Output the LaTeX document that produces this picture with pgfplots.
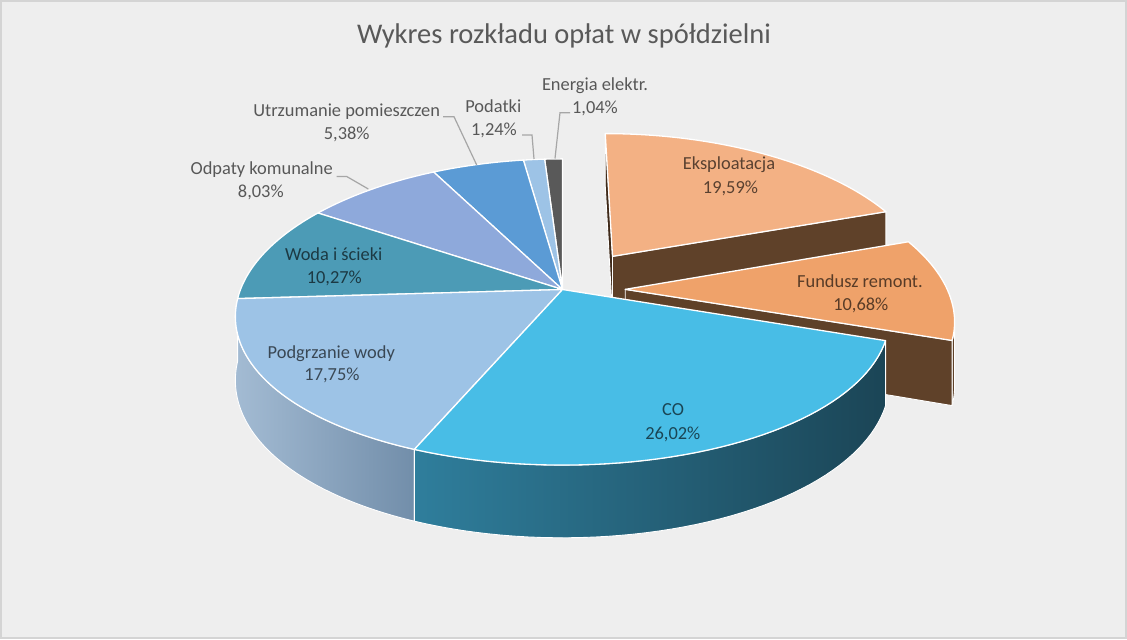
\documentclass[border=0pt]{standalone}
\usepackage{fontspec}
\setmainfont{Carlito}
\usepackage{pgfplots}
\usepackage{pgfplotstable}
\pgfplotsset{compat=1.18}

\definecolor{bg}{HTML}{EEEEEE}
\definecolor{frame}{HTML}{D4D4D4}
\definecolor{titlecol}{HTML}{595959}
\definecolor{leader}{HTML}{A6A6A6}
\definecolor{cEk}{HTML}{F3B184}
\definecolor{cFu}{HTML}{EFA26A}
\definecolor{cBrown}{HTML}{5F4129}
\definecolor{cBrownD}{HTML}{3F2A1A}
\definecolor{cCO}{HTML}{48BDE6}
\definecolor{cCOl}{HTML}{2F7E9C}
\definecolor{cCOr}{HTML}{1B4556}
\definecolor{cPo}{HTML}{9DC3E6}
\definecolor{cPol}{HTML}{A3BBD3}
\definecolor{cPor}{HTML}{728EAA}
\definecolor{cWo}{HTML}{4C9BB6}
\definecolor{cOd}{HTML}{8EA9DB}
\definecolor{cUt}{HTML}{5B9BD5}
\definecolor{cPd}{HTML}{9DC3E6}
\definecolor{cEn}{HTML}{595959}

\tikzset{lbl/.style={anchor=base, text=black, text opacity=0.63, inner sep=0pt,
  font=\fontsize{18.4bp}{22bp}\selectfont}}

% shares (%) in Excel's clockwise order from 12 o'clock, and explosion
\pgfplotstableread{
share explode
19.59 0.28
10.68 0.195
26.02 0
17.75 0
10.27 0
8.03 0
5.38 0
1.24 0
1.04 0
}\piedata

% start/end angles of every slice
\gdef\cum{0}
\pgfplotstableforeachcolumnelement{share}\of\piedata\as\val{%
  \pgfmathsetmacro\angA{90-3.6*\cum}%
  \pgfmathsetmacro\angB{90-3.6*(\cum+\val)}%
  \expandafter\xdef\csname ts\pgfplotstablerow\endcsname{\angA}%
  \expandafter\xdef\csname te\pgfplotstablerow\endcsname{\angB}%
  \pgfmathsetmacro\angC{\cum+\val}\xdef\cum{\angC}%
}
\pgfplotstableforeachcolumnelement{explode}\of\piedata\as\val{%
  \edef\rr{\pgfplotstablerow}%
  \pgfmathsetmacro\mid{(\csname ts\rr\endcsname+\csname te\rr\endcsname)/2}%
  \pgfmathsetmacro\duu{\val*cos(\mid)}%
  \pgfmathsetmacro\dvv{\val*sin(\mid)}%
  \expandafter\xdef\csname du\rr\endcsname{\duu}%
  \expandafter\xdef\csname dv\rr\endcsname{\dvv}%
}
\newcommand\TS[1]{\csname ts#1\endcsname}
\newcommand\TE[1]{\csname te#1\endcsname}
\newcommand\DU[1]{\csname du#1\endcsname}
\newcommand\DV[1]{\csname dv#1\endcsname}

% perspective projection of the pie (unit radius, z=0 top, z=-1 bottom)
\newcommand\proj[3]{%
  \pgfmathsetmacro\px{562.5+322*(#1)/(1+0.177*(#2))}%
  \pgfmathsetmacro\py{349.5+(149.8*(#2)+62*(#3))/(1+0.147*(#2))}%
}
\newcommand\addpt[3]{\proj{#1}{#2}{#3}\xdef\pth{\pth(axis cs:\px,\py)--}}
\newcommand\addrim[5]{%
  \foreach \kk in {0,...,48}{%
    \pgfmathsetmacro\ang{#4+(#5-#4)*\kk/48}%
    \addpt{#1+cos(\ang)}{#2+sin(\ang)}{#3}%
  }}
% top face: style, row
\newcommand\slicetop[2]{%
  \gdef\pth{}%
  \addpt{\DU{#2}}{\DV{#2}}{0}%
  \addrim{\DU{#2}}{\DV{#2}}{0}{\TS{#2}}{\TE{#2}}%
  \path[#1, draw=white, line width=1.3bp, line join=round] \pth cycle;}
% outer side: style, row, from angle, to angle
\newcommand\slicerim[4]{%
  \gdef\pth{}%
  \addrim{\DU{#2}}{\DV{#2}}{0}{#3}{#4}%
  \addrim{\DU{#2}}{\DV{#2}}{-1}{#4}{#3}%
  \path[#1, draw=white, line width=0.9bp, line join=round] \pth cycle;}
% radial cut face: style, row, angle
\newcommand\radial[3]{%
  \gdef\pth{}%
  \addpt{\DU{#2}}{\DV{#2}}{0}%
  \addpt{\DU{#2}+cos(#3)}{\DV{#2}+sin(#3)}{0}%
  \addpt{\DU{#2}+cos(#3)}{\DV{#2}+sin(#3)}{-1}%
  \addpt{\DU{#2}}{\DV{#2}}{-1}%
  \path[#1, draw=white, line width=0.9bp, line join=round] \pth cycle;}

\begin{document}
\begin{tikzpicture}
\begin{axis}[
  scale only axis, width=1127bp, height=639bp,
  xmin=0, xmax=1127, ymin=0, ymax=639,
  hide axis, clip=false]
\pgfplotsextra{%
  \fill[bg] (axis cs:0,0) rectangle (axis cs:1127,639);
  \draw[frame, line width=1.6bp] (axis cs:0.8,0.8) rectangle (axis cs:1126.2,638.2);
  % back slices
  \slicetop{fill=cEn}{8}%
  \slicetop{fill=cPd}{7}%
  \slicetop{fill=cUt}{6}%
  \slicetop{fill=cOd}{5}%
  \slicetop{fill=cWo}{4}%
  % Eksploatacja (exploded)
  \radial{fill=cBrownD}{0}{\TS{0}}%
  \radial{fill=cBrown}{0}{\TE{0}}%
  \slicetop{fill=cEk}{0}%
  % Fundusz remont. (exploded); outer side only where it faces the viewer
  \slicerim{fill=cBrown}{1}{-12.2}{\TE{1}}%
  \radial{fill=cBrown}{1}{\TE{1}}%
  \slicetop{fill=cFu}{1}%
  % Podgrzanie wody
  \slicerim{left color=cPol, right color=cPor}{3}{\TS{3}}{\TE{3}}%
  \slicetop{fill=cPo}{3}%
  % CO
  \slicerim{left color=cCOl, right color=cCOr}{2}{\TS{2}}{\TE{2}}%
  \slicetop{fill=cCO}{2}%
  % leader lines
  \draw[leader, line width=1.2bp] (axis cs:570,526.3) -- (axis cs:560,526.3) -- (axis cs:555,480.5);
  \draw[leader, line width=1.2bp] (axis cs:522,504) -- (axis cs:532,504) -- (axis cs:534,480);
  \draw[leader, line width=1.2bp] (axis cs:443,522.3) -- (axis cs:454,522.3) -- (axis cs:476.7,474);
  \draw[leader, line width=1.2bp] (axis cs:336.7,462.5) -- (axis cs:346.7,462.5) -- (axis cs:368.3,450);
  % title
  \node[anchor=base, text=titlecol, font=\fontsize{28.5bp}{34bp}\selectfont, inner sep=0pt]
    at (axis cs:564,595.5) {Wykres rozkładu opłat w spółdzielni};
}
% data labels
\node[lbl] at (axis cs:595,548.3) {Energia elektr.};
\node[lbl] at (axis cs:595,525.7) {1,04\%};
\node[lbl] at (axis cs:493.3,526.3) {Podatki};
\node[lbl] at (axis cs:494,503) {1,24\%};
\node[lbl] at (axis cs:346.7,522.3) {Utrzumanie pomieszczen};
\node[lbl] at (axis cs:346.7,499.7) {5,38\%};
\node[lbl] at (axis cs:261.7,464) {Odpaty komunalne};
\node[lbl] at (axis cs:260.8,441.3) {8,03\%};
\node[lbl] at (axis cs:333.8,378.3) {Woda i ścieki};
\node[lbl] at (axis cs:334.3,355) {10,27\%};
\node[lbl] at (axis cs:729,469) {Eksploatacja};
\node[lbl] at (axis cs:730.5,445.7) {19,59\%};
\node[lbl] at (axis cs:860,351.3) {Fundusz remont.};
\node[lbl] at (axis cs:860.8,328.3) {10,68\%};
\node[lbl] at (axis cs:331.3,280.7) {Podgrzanie wody};
\node[lbl] at (axis cs:332,258.3) {17,75\%};
\node[lbl] at (axis cs:673,223.3) {CO};
\node[lbl] at (axis cs:672.8,200) {26,02\%};
\end{axis}
\end{tikzpicture}
\end{document}
